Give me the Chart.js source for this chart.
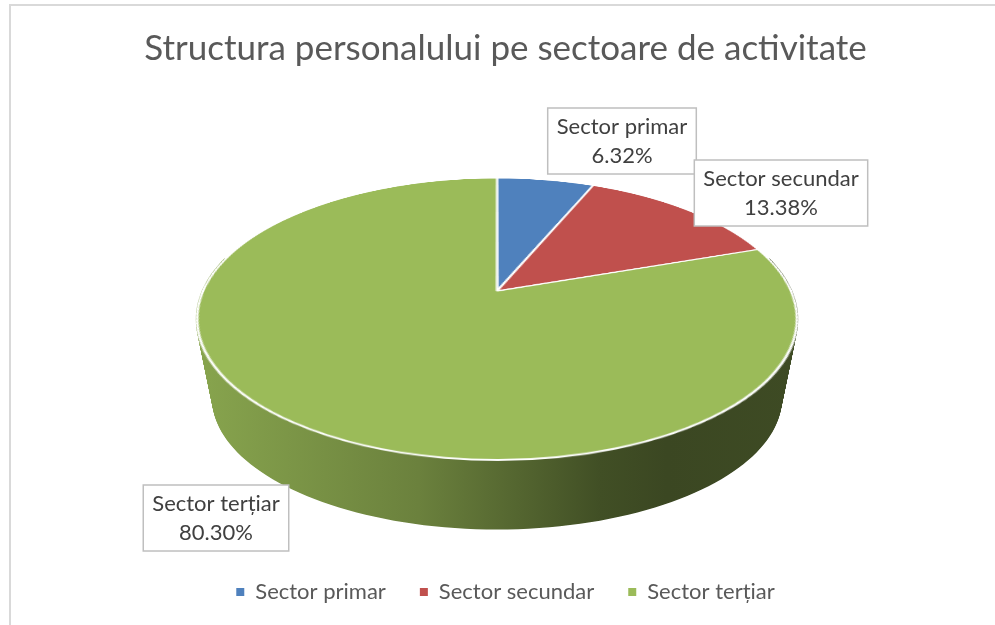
<!DOCTYPE html>
<html>
<head>
<meta charset="utf-8">
<script src="https://cdn.jsdelivr.net/npm/chart.js@4.4.1/dist/chart.umd.min.js"></script>
<style>
  html, body { margin: 0; padding: 0; background: #ffffff; }
  #wrap { width: 995px; height: 625px; position: relative; }
</style>
</head>
<body>
<div id="wrap"><canvas id="sectorChart"></canvas></div>
<script>
const chartTitle = 'Structura personalului pe sectoare de activitate';
const categories = ['Sector primar', 'Sector secundar', 'Sector terțiar'];
const shares = [6.32, 13.38, 80.30];
const sliceColors = ['#4f81bd', '#c0504d', '#9bbb59'];

// centres of the data-label boxes, as Excel placed them
const labelSpots = [[622, 141], [781, 193], [216, 518]];

const FONT = 'Lato, "Open Sans", sans-serif';

// perspective of the 3D pie: top face and bottom rim
const topFace = { cx: 497, apex: 291, rx: 294, ry: 135.4, k: 0.1986 };
const baseRim = { cx: 497, apex: 372, rx: 278, ry: 125, k: 0.2 };

function project(P, u, v) {
  const w = 1 / (1 + P.k * v);
  return [P.cx + P.rx * u * w, P.apex - P.ry * v * w];
}

function shade(hex, f) {
  const n = parseInt(hex.slice(1), 16);
  const r = Math.round(((n >> 16) & 255) * f);
  const g = Math.round(((n >> 8) & 255) * f);
  const b = Math.round((n & 255) * f);
  return 'rgb(' + r + ',' + g + ',' + b + ')';
}

function drawSides(ctx, arcs) {
  const steps = 80;
  const lo = -0.25, hi = Math.PI + 0.25;
  const left = topFace.cx - topFace.rx * 1.03, right = topFace.cx + topFace.rx * 1.03;
  arcs.forEach((arc, i) => {
    const g = ctx.createLinearGradient(left, 0, right, 0);
    g.addColorStop(0, shade(sliceColors[i], 0.88));
    g.addColorStop(0.37, shade(sliceColors[i], 0.69));
    g.addColorStop(0.67, shade(sliceColors[i], 0.42));
    g.addColorStop(0.78, shade(sliceColors[i], 0.38));
    g.addColorStop(1, shade(sliceColors[i], 0.40));
    for (let m = -1; m <= 1; m++) {
      const a = Math.max(arc.startAngle + 2 * Math.PI * m, lo);
      const b = Math.min(arc.endAngle + 2 * Math.PI * m, hi);
      if (b <= a) continue;
      ctx.strokeStyle = g;
      ctx.lineWidth = 2.5;
      for (let s = 0; s <= steps; s++) {
        const t = s / steps;
        const P = {};
        for (const key in topFace) P[key] = topFace[key] + (baseRim[key] - topFace[key]) * t;
        ctx.beginPath();
        for (let j = 0; j <= 120; j++) {
          const th = a + (b - a) * j / 120;
          const [x, y] = project(P, Math.cos(th), -Math.sin(th));
          if (j) ctx.lineTo(x, y); else ctx.moveTo(x, y);
        }
        ctx.stroke();
      }
    }
  });
}

function warpTop(ctx, src, ox, oy, R) {
  const P = topFace;
  const m = 2;
  const vMax = 1 + m / R;
  const top = Math.floor(P.apex - P.ry * vMax / (1 + P.k * vMax));
  const bot = Math.ceil(P.apex + P.ry * vMax / (1 - P.k * vMax));
  const vOf = Y => { const t = (P.apex - Y) / P.ry; return t / (1 - P.k * t); };
  for (let Y = top; Y < bot; Y++) {
    const v0 = Math.min(vMax, vOf(Y)), v1 = Math.max(-vMax, vOf(Y + 1));
    if (v0 <= v1) continue;
    const vm = (v0 + v1) / 2;
    const w = 1 / (1 + P.k * vm);
    const sy0 = oy - v0 * R, sy1 = oy - v1 * R;
    const half = P.rx * w * (R + m) / R;
    ctx.drawImage(src, ox - R - m, sy0, 2 * (R + m), Math.max(0.5, sy1 - sy0), P.cx - half, Y, 2 * half, 1);
  }
}

const pie3d = {
  id: 'pie3d',
  afterDatasetsDraw(chart) {
    const arcs = chart.getDatasetMeta(0).data;
    if (!arcs.length) return;
    const { x: ox, y: oy, outerRadius: R } = arcs[0];
    const off = document.createElement('canvas');
    off.width = chart.canvas.width;
    off.height = chart.canvas.height;
    off.getContext('2d').drawImage(chart.canvas, 0, 0);
    const ctx = chart.ctx;
    ctx.save();
    ctx.clearRect(ox - R - 4, oy - R - 4, 2 * R + 8, 2 * R + 8);
    drawSides(ctx, arcs);
    ctx.imageSmoothingEnabled = true;
    warpTop(ctx, off, ox, oy, R);
    ctx.restore();
  },
  afterDraw(chart) {
    const ctx = chart.ctx;
    ctx.save();
    // chart frame (only top and left edges are in view)
    ctx.strokeStyle = '#d9d9d9';
    ctx.lineWidth = 2;
    ctx.beginPath();
    ctx.moveTo(10, 625);
    ctx.lineTo(10, 5);
    ctx.lineTo(995, 5);
    ctx.stroke();
    // data labels
    ctx.font = '22px ' + FONT;
    ctx.textAlign = 'center';
    ctx.textBaseline = 'middle';
    categories.forEach((name, i) => {
      const [x, y] = labelSpots[i];
      const lines = [name, shares[i].toFixed(2) + '%'];
      const w = Math.max(...lines.map(l => ctx.measureText(l).width)) + 18;
      const h = 66;
      ctx.fillStyle = '#ffffff';
      ctx.fillRect(x - w / 2, y - h / 2, w, h);
      ctx.strokeStyle = '#bfbfbf';
      ctx.lineWidth = 1.5;
      ctx.strokeRect(x - w / 2, y - h / 2, w, h);
      ctx.fillStyle = '#404040';
      ctx.fillText(lines[0], x, y - 14);
      ctx.fillText(lines[1], x, y + 15);
    });
    ctx.restore();
  }
};

const sectorCtx = document.getElementById('sectorChart').getContext('2d');
new Chart(sectorCtx, {
  type: 'pie',
  data: {
    labels: categories,
    datasets: [
      {
        data: shares,
        backgroundColor: sliceColors,
        borderColor: '#ffffff',
        borderWidth: 2,
      }
    ]
  },
  options: {
    responsive: true,
    maintainAspectRatio: false,
    animation: false,
    devicePixelRatio: 1,
    layout: { padding: { top: 0, bottom: 12, left: 36, right: 20 } },
    plugins: {
      title: {
        display: true,
        text: chartTitle,
        color: '#595959',
        font: { family: FONT, size: 35, weight: 'normal' },
        padding: { top: 28, bottom: 20 }
      },
      legend: {
        position: 'bottom',
        labels: {
          boxWidth: 8,
          boxHeight: 8,
          padding: 34,
          color: '#595959',
          font: { family: FONT, size: 22 },
          generateLabels: function(chart) {
            return Chart.overrides.pie.plugins.legend.labels.generateLabels(chart)
              .map(item => Object.assign(item, { lineWidth: 0 }));
          }
        }
      },
      tooltip: { enabled: false }
    }
  },
  plugins: [pie3d]
});
</script>
</body>
</html>
